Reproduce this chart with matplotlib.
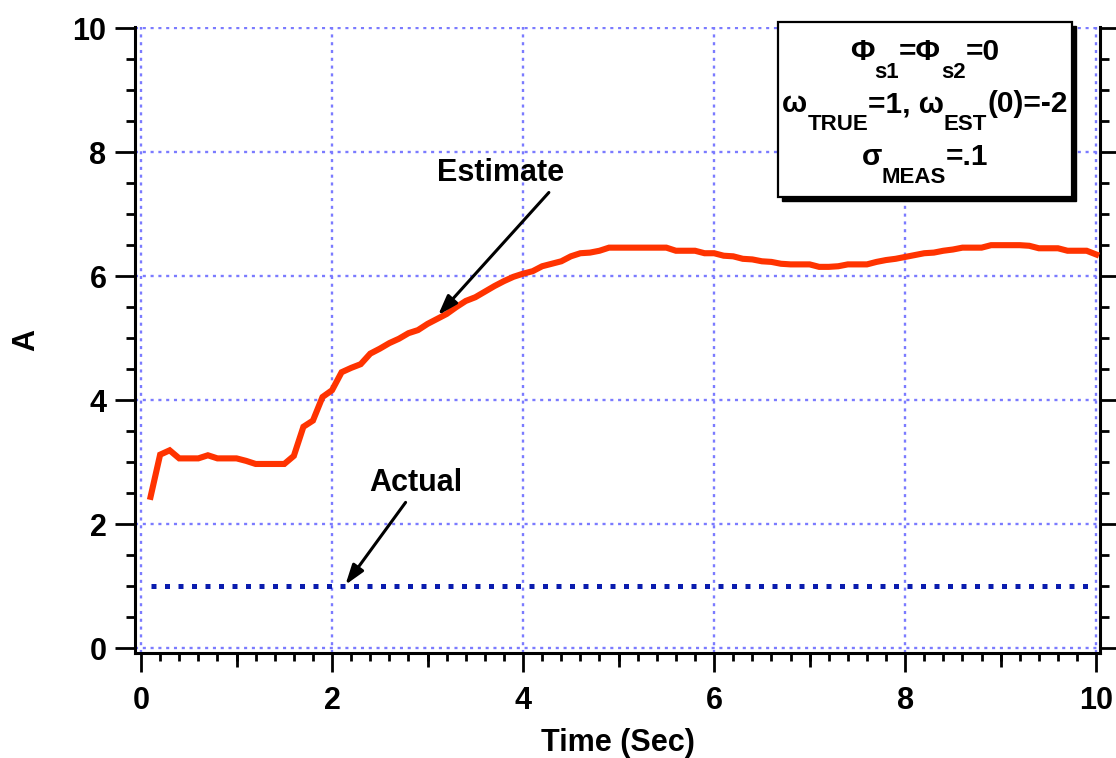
import matplotlib
matplotlib.use("Agg")
import matplotlib.pyplot as plt
from matplotlib.patches import Rectangle
from matplotlib.ticker import MultipleLocator, NullLocator
import numpy as np

plt.rcParams["font.family"] = ["Liberation Sans", "DejaVu Sans"]
plt.rcParams["font.weight"] = "bold"
plt.rcParams["axes.labelweight"] = "bold"

# ── Data ─────────────────────────────────────────────────────────────────────
time_s = np.round(np.arange(1, 101) * 0.1, 1)
estimate = [
    2.44, 3.12, 3.19, 3.06, 3.06, 3.06, 3.11, 3.06, 3.06, 3.06,
    3.02, 2.97, 2.97, 2.97, 2.97, 3.10, 3.57, 3.67, 4.05, 4.16,
    4.45, 4.52, 4.58, 4.75, 4.83, 4.92, 4.99, 5.08, 5.13, 5.23,
    5.31, 5.39, 5.50, 5.60, 5.66, 5.75, 5.84, 5.92, 5.99, 6.04,
    6.08, 6.16, 6.20, 6.24, 6.32, 6.37, 6.38, 6.41, 6.46, 6.46,
    6.46, 6.46, 6.46, 6.46, 6.46, 6.41, 6.41, 6.41, 6.37, 6.37,
    6.33, 6.32, 6.28, 6.27, 6.24, 6.23, 6.20, 6.19, 6.19, 6.19,
    6.15, 6.15, 6.16, 6.19, 6.19, 6.19, 6.23, 6.26, 6.28, 6.31,
    6.34, 6.37, 6.38, 6.41, 6.43, 6.46, 6.46, 6.46, 6.50, 6.50,
    6.50, 6.50, 6.49, 6.45, 6.45, 6.45, 6.41, 6.41, 6.41, 6.35,
]
actual = [1.0] * len(time_s)

x_ticks = [0, 2, 4, 6, 8, 10]
y_ticks = [0, 2, 4, 6, 8, 10]

# legend-box lines: (text, is_subscript)
box_lines = [
    [("Φ", False), ("s1", True), ("=Φ", False), ("s2", True), ("=0", False)],
    [("ω", False), ("TRUE", True), ("=1, ω", False), ("EST", True), ("(0)=-2", False)],
    [("σ", False), ("MEAS", True), ("=.1", False)],
]

RED = "#FF3300"
BLUE = "#0A1CAE"
GRID = "#7B7BFF"
FS = 22

# ── Figure ───────────────────────────────────────────────────────────────────
W, H = 1116, 758
fig = plt.figure(figsize=(W / 100, H / 100), dpi=100)
ax = fig.add_axes([135 / W, 1 - 653 / H, (1100 - 135) / W, (653 - 27) / H])

ax.plot(time_s, estimate, color=RED, lw=4.4, solid_joinstyle="miter", zorder=3)
ax.plot(time_s, actual, color=BLUE, lw=3.6, dashes=(1.0, 1.7),
        dash_capstyle="butt", zorder=3)

ax.set_xlim(-0.063, 10.04)
ax.set_ylim(-0.08, 10.02)
ax.set_xticks(x_ticks)
ax.set_yticks(y_ticks)
ax.xaxis.set_minor_locator(MultipleLocator(0.2))
ax.yaxis.set_minor_locator(MultipleLocator(0.5))
ax.grid(True, which="major", color=GRID, linestyle=(0, (1.3, 2.0)), lw=1.7)

ax.spines["top"].set_visible(False)
for s in ("left", "right", "bottom"):
    ax.spines[s].set_linewidth(2.2)

ax.tick_params(axis="both", which="both", direction="out", width=2, labelsize=FS)
ax.tick_params(axis="y", which="major", length=14.5, pad=6, right=True)
ax.tick_params(axis="y", which="minor", length=6.5, right=True)
ax.tick_params(axis="x", which="major", length=13.5, pad=10)
ax.tick_params(axis="x", which="minor", length=5.8)
ax.tick_params(axis="x", which="both", top=False)

# medium ticks at odd seconds
sec = ax.secondary_xaxis("bottom")
sec.set_xticks([1, 3, 5, 7, 9], labels=[])
sec.xaxis.set_minor_locator(NullLocator())
sec.tick_params(axis="x", direction="out", length=10, width=2)
sec.spines["bottom"].set_visible(False)

ax.set_xlabel("Time (Sec)", fontsize=FS, labelpad=9)
ax.set_ylabel("A", fontsize=FS)
ax.yaxis.set_label_coords(-0.097, 0.5)

# annotations
ax.text(3.76, 7.66, "Estimate", fontsize=FS, ha="center", va="center")
ax.text(2.88, 2.66, "Actual", fontsize=FS, ha="center", va="center")
arrow = dict(arrowstyle="-|>,head_length=0.6,head_width=0.2", color="k",
             lw=2.2, mutation_scale=20, shrinkA=0, shrinkB=0)
ax.annotate("", xy=(3.11, 5.37), xytext=(4.27, 7.35), arrowprops=arrow, zorder=4)
ax.annotate("", xy=(2.14, 1.02), xytext=(2.77, 2.35), arrowprops=arrow, zorder=4)

# parameter box with drop shadow
bx, by, bw, bh = 0.666, 0.728, 0.305, 0.280
sx, sy = 4 / 965, 4 / 626
ax.add_patch(Rectangle((bx + sx, by - sy), bw, bh, transform=ax.transAxes,
                       facecolor="k", edgecolor="k", clip_on=False, zorder=5))
ax.add_patch(Rectangle((bx, by), bw, bh, transform=ax.transAxes,
                       facecolor="white", edgecolor="k", lw=1.6,
                       clip_on=False, zorder=5))

MAIN, SUB, DROP = 21.5, 16, 13
baselines = [0.947, 0.864, 0.780]
cx = 0.8187
firsts, lasts = [], []
for y, parts in zip(baselines, box_lines):
    prev = None
    for s, is_sub in parts:
        size = SUB if is_sub else MAIN
        if prev is None:
            t = ax.text(cx, y, s, transform=ax.transAxes, fontsize=size,
                        ha="left", va="baseline", zorder=6)
            firsts.append(t)
        else:
            t = ax.annotate(s, xy=(1, y), xycoords=(prev, ax.transAxes),
                            xytext=(0, -DROP if is_sub else 0),
                            textcoords="offset points", fontsize=size,
                            ha="left", va="baseline", zorder=6,
                            annotation_clip=False)
        prev = t
    lasts.append(prev)

# centre each box line
fig.canvas.draw()
r = fig.canvas.get_renderer()
cx_px = ax.transAxes.transform((cx, 0))[0]
for f, l in zip(firsts, lasts):
    x0 = f.get_window_extent(r).x0
    x1 = l.get_window_extent(r).x1
    new_x = ax.transAxes.inverted().transform((cx_px - (x1 - x0) / 2, 0))[0]
    f.set_x(new_x)

fig.savefig("out.png", dpi=100)
